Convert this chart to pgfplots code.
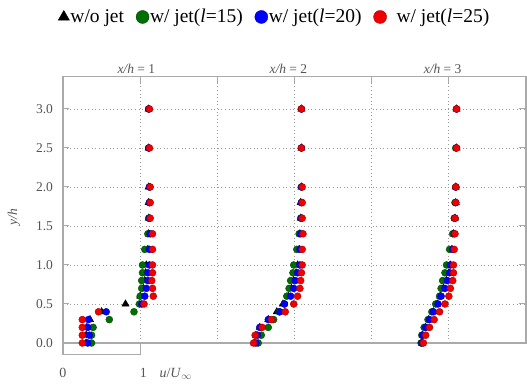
\documentclass[border=0pt]{standalone}
\usepackage{pgfplots}
\usepackage{pgfplotstable}
\pgfplotsset{compat=1.18}
\usepackage{fontspec}
\setmainfont{Liberation Serif}
\definecolor{cgreen}{RGB}{0,110,0}
\definecolor{cblue}{RGB}{0,0,255}
\definecolor{cred}{RGB}{240,0,0}
\definecolor{axgray}{RGB}{170,170,170}
\definecolor{txtgray}{RGB}{85,85,85}

% columns: y, u at x/h=1 (a), x/h=2 (b), x/h=3 (c)
\pgfplotstableread{
y a b c
0.0 0.30 0.48 0.65
0.1 0.30 0.50 0.66
0.2 0.31 0.55 0.70
0.3 0.35 0.66 0.74
0.4 0.50 0.77 0.80
0.5 0.81 0.85 0.85
0.6 1.00 0.92 0.89
0.7 1.04 0.96 0.93
0.8 1.06 0.99 0.97
0.9 1.07 1.02 1.00
1.0 1.08 1.04 1.02
1.2 1.10 1.06 1.04
1.4 1.11 1.07 1.06
1.6 1.11 1.08 1.08
1.8 1.11 1.08 1.09
2.0 1.11 1.09 1.09
2.5 1.11 1.09 1.10
3.0 1.11 1.09 1.10
}\nojet
\pgfplotstableread{
y a b c
0.0 0.37 0.53 0.64
0.1 0.37 0.57 0.65
0.2 0.39 0.66 0.68
0.3 0.60 0.73 0.73
0.4 0.92 0.80 0.78
0.5 0.99 0.87 0.83
0.6 1.00 0.90 0.88
0.7 1.02 0.93 0.90
0.8 1.02 0.95 0.92
0.9 1.03 0.98 0.95
1.0 1.03 0.99 0.97
1.2 1.06 1.03 1.01
1.4 1.10 1.06 1.05
1.6 1.11 1.08 1.07
1.8 1.12 1.09 1.08
2.0 1.12 1.09 1.09
2.5 1.11 1.09 1.09
3.0 1.11 1.09 1.10
}\jetA
\pgfplotstableread{
y a b c
0.0 0.32 0.50 0.65
0.1 0.34 0.52 0.66
0.2 0.32 0.55 0.70
0.3 0.33 0.66 0.75
0.4 0.56 0.81 0.80
0.5 1.02 0.87 0.86
0.6 1.06 0.95 0.90
0.7 1.08 0.99 0.95
0.8 1.10 1.01 0.98
0.9 1.10 1.04 1.01
1.0 1.12 1.07 1.02
1.2 1.12 1.07 1.05
1.4 1.13 1.08 1.07
1.6 1.12 1.09 1.08
1.8 1.12 1.09 1.09
2.0 1.12 1.09 1.09
2.5 1.11 1.09 1.10
3.0 1.11 1.09 1.10
}\jetB
\pgfplotstableread{
y a b c
0.0 0.25 0.47 0.67
0.1 0.25 0.49 0.70
0.2 0.25 0.58 0.75
0.3 0.25 0.70 0.81
0.4 0.46 0.88 0.88
0.5 1.05 0.99 0.95
0.6 1.17 1.04 1.00
0.7 1.16 1.07 1.02
0.8 1.15 1.08 1.05
0.9 1.16 1.09 1.06
1.0 1.16 1.10 1.06
1.2 1.16 1.10 1.07
1.4 1.16 1.11 1.08
1.6 1.13 1.10 1.08
1.8 1.13 1.10 1.09
2.0 1.13 1.10 1.09
2.5 1.12 1.09 1.10
3.0 1.12 1.09 1.10
}\jetC

\begin{document}
\begin{tikzpicture}
\begin{axis}[
  scale only axis, width=463pt, height=266.8pt,
  xmin=0, xmax=6, ymin=0, ymax=3.42,
  clip=false,
  axis line style={axgray, line width=1.2pt},
  tick style={axgray, line width=1pt},
  major tick length=6.5pt,
  tick align=inside,
  xtick={1,2,3,4,5}, xticklabels={}, xtick pos=right,
  ytick={0,0.5,1,1.5,2,2.5,3}, ytick pos=both, yticklabel pos=left,
  grid=major,
  major grid style={axgray!90!black, line width=0.9pt, dash pattern=on 1pt off 2.6pt},
  yticklabel style={font=\fontsize{13.5}{16}\selectfont, text=txtgray, xshift=-6.5pt,
    /pgf/number format/.cd, fixed, fixed zerofill, precision=1, assume math mode=true},
  legend columns=4,
  legend style={at={(-0.0173,1.222)}, anchor=west, draw=none, fill=none,
    font=\fontsize{19.5}{22}\selectfont, text=black,
    nodes={inner xsep=1pt, inner ysep=1pt},
    /tikz/every even column/.append style={column sep=11pt}},
  legend image code/.code={\draw[#1] plot coordinates {(0pt,0pt)};},
  legend image post style={mark size=6.5pt},
  s0/.style={only marks, mark=triangle*, mark size=4.2pt, mark options={fill=black, draw=black}},
  s1/.style={only marks, mark=*, mark size=3.5pt, mark options={fill=cgreen, draw=cgreen!70!black, line width=0.4pt}},
  s2/.style={only marks, mark=*, mark size=3.5pt, mark options={fill=cblue, draw=cblue!70!black, line width=0.4pt}},
  s3/.style={only marks, mark=*, mark size=3.5pt, mark options={fill=cred, draw=cred!70!black, line width=0.4pt}},
]
% extra frame parts
\draw[axgray, line width=1.2pt] (axis cs:0,0) -- (axis cs:0,-0.15) -- (axis cs:1,-0.15) -- (axis cs:1,0);

\addplot[s0] table[x=a, y=y] {\nojet};
\addlegendentry{w/o jet}
\addplot[s0, forget plot] table[x expr=\thisrow{b}+2, y=y] {\nojet};
\addplot[s0, forget plot] table[x expr=\thisrow{c}+4, y=y] {\nojet};

\addplot[s1] table[x=a, y=y] {\jetA};
\addlegendentry{w/ jet(\textit{l}=15)}
\addplot[s1, forget plot] table[x expr=\thisrow{b}+2, y=y] {\jetA};
\addplot[s1, forget plot] table[x expr=\thisrow{c}+4, y=y] {\jetA};

\addplot[s2] table[x=a, y=y] {\jetB};
\addlegendentry{w/ jet(\textit{l}=20)}
\addplot[s2, forget plot] table[x expr=\thisrow{b}+2, y=y] {\jetB};
\addplot[s2, forget plot] table[x expr=\thisrow{c}+4, y=y] {\jetB};

\addplot[s3] table[x=a, y=y] {\jetC};
\addlegendentry{\hspace{9pt}w/ jet(\textit{l}=25)}
\addplot[s3, forget plot] table[x expr=\thisrow{b}+2, y=y] {\jetC};
\addplot[s3, forget plot] table[x expr=\thisrow{c}+4, y=y] {\jetC};

% titles
\node[anchor=base, yshift=2.7pt, font=\fontsize{13.5}{16}\selectfont, text=txtgray] at (axis cs:0.95,3.42) {\textit{x/h} = 1};
\node[anchor=base, yshift=2.7pt, font=\fontsize{13.5}{16}\selectfont, text=txtgray] at (axis cs:2.92,3.42) {\textit{x/h} = 2};
\node[anchor=base, yshift=2.7pt, font=\fontsize{13.5}{16}\selectfont, text=txtgray] at (axis cs:4.92,3.42) {\textit{x/h} = 3};
% axis labels
\node[rotate=90, font=\fontsize{13.5}{16}\selectfont, text=txtgray] at (axis cs:-0.635,1.615) {\textit{y/h}};
\node[anchor=base, font=\fontsize{14}{16}\selectfont, text=txtgray] at (axis cs:0,-0.44) {0};
\node[anchor=base, font=\fontsize{14}{16}\selectfont, text=txtgray] at (axis cs:1.04,-0.44) {1};
\node[anchor=base, font=\fontsize{14}{16}\selectfont, text=txtgray] at (axis cs:1.46,-0.44) {\textit{u}/\textit{U}\textsubscript{$\infty$}};
\end{axis}
\pgfresetboundingbox
\useasboundingbox (-63pt,-42pt) rectangle (464pt,343pt);
\end{tikzpicture}
\end{document}
